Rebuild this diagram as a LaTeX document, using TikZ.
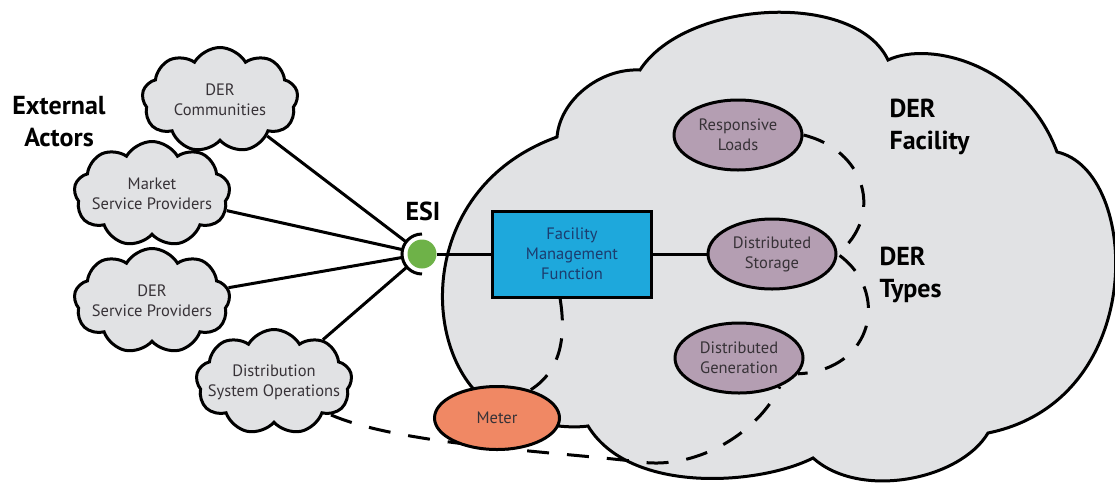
\documentclass[tikz,border=0pt]{standalone}
\usepackage{fontspec}
\setmainfont{PT Sans}
\usetikzlibrary{shapes,arrows,positioning,backgrounds}

\definecolor{cloudgray}{RGB}{225,226,228}
\definecolor{esigreen}{RGB}{110,178,72}
\definecolor{fmfblue}{RGB}{30,168,220}
\definecolor{fmftext}{RGB}{28,60,110}
\definecolor{dermauve}{RGB}{180,158,178}
\definecolor{meterorange}{RGB}{240,136,100}
\definecolor{txtgray}{RGB}{55,50,55}

\begin{document}
\begin{tikzpicture}[
    x=1pt, y=-1pt,
    small/.style={font=\fontsize{16.5}{20}\selectfont, text=txtgray, align=center},
    biglabel/.style={font=\fontsize{26}{32}\selectfont\bfseries, align=left},
    actor/.style={draw, line width=3pt, fill=cloudgray, cloud, cloud puffs=9, cloud puff arc=120, minimum width=156pt, minimum height=105pt, inner sep=0pt},
    actortext/.style={label={[small]center:#1}},
    dertype/.style={small, draw, line width=3pt, ellipse, fill=dermauve, minimum width=128pt, minimum height=70pt, inner sep=0pt},
    link/.style={line width=3pt},
    dashlink/.style={line width=3pt, dash pattern=on 22pt off 18pt}
]
\useasboundingbox (0,0) rectangle (1115,485);

\node[biglabel, align=center] (extlbl) at (59,122) {External\\Actors};
\node[actor, actortext={DER\\Communities}] (dercom) at (220,100) {};
\node[actor, actortext={Market\\Service Providers}] (market) at (152,194) {};
\node[actor, actortext={DER\\Service Providers}] (dersp) at (152,301) {};
\node[actor, actortext={Distribution\\System Operations}] (dso) at (274,382) {};

\node[circle, fill=esigreen, minimum size=29pt, inner sep=0pt] (esi) at (422,254) {};
\node[biglabel] (esilbl) at (423,211) {ESI};

\node[small, draw, line width=3pt, fill=fmfblue, text=fmftext, minimum width=159pt, minimum height=86pt, inner sep=0pt] (fmf) at (572,254) {Facility\\Management\\Function};
\node[dertype] (rl) at (738,135) {Responsive\\Loads};
\node[dertype] (ds) at (772,254) {Distributed\\Storage};
\node[dertype] (dg) at (739,358) {Distributed\\Generation};
\node[small, draw, line width=3pt, ellipse, fill=meterorange, minimum width=125pt, minimum height=63pt, inner sep=0pt] (meter) at (497,418) {Meter};

\node[biglabel, anchor=west] (faclbl) at (886,127) {DER\\Facility};
\node[biglabel, anchor=west] (typlbl) at (876,275) {DER\\Types};

\begin{scope}[on background layer]
\draw[line width=3pt, fill=cloudgray] (588,426) .. controls (575,428) and (540,428) .. (500,410)
  .. controls (420,370) and (410,190) .. (557,137)
  .. controls (560,100) and (600,68) .. (640,70)
  .. controls (685,0) and (855,-10) .. (888,60)
  .. controls (930,40) and (1025,65) .. (1057,152)
  .. controls (1140,170) and (1150,400) .. (988,433)
  .. controls (960,480) and (860,500) .. (813,458)
  .. controls (760,485) and (630,495) .. (588,426) -- cycle;
\draw[dashlink] (dso.-30) .. controls (400,445) and (560,452) .. (640,462) .. controls (700,470) and (760,430) .. (dg.-35);
\draw[dashlink] (fmf.-105) .. controls (566,335) and (562,370) .. (meter.40);
\draw[dashlink] (rl.east) .. controls (865,150) and (885,215) .. (ds.east) .. controls (890,290) and (875,370) .. (dg.-15);
\end{scope}

\draw[link, shorten >=6pt] (dercom) -- (esi);
\draw[link, shorten >=6pt] (market) -- (esi);
\draw[link, shorten >=6pt] (dersp) -- (esi);
\draw[link, shorten >=6pt] (dso) -- (esi);
\draw[link] ([shift={(90:20)}]esi.center) arc[start angle=90, end angle=270, radius=20];
\draw[link] (esi) -- (fmf);
\draw[link] (fmf) -- (ds);
\end{tikzpicture}
\end{document}
